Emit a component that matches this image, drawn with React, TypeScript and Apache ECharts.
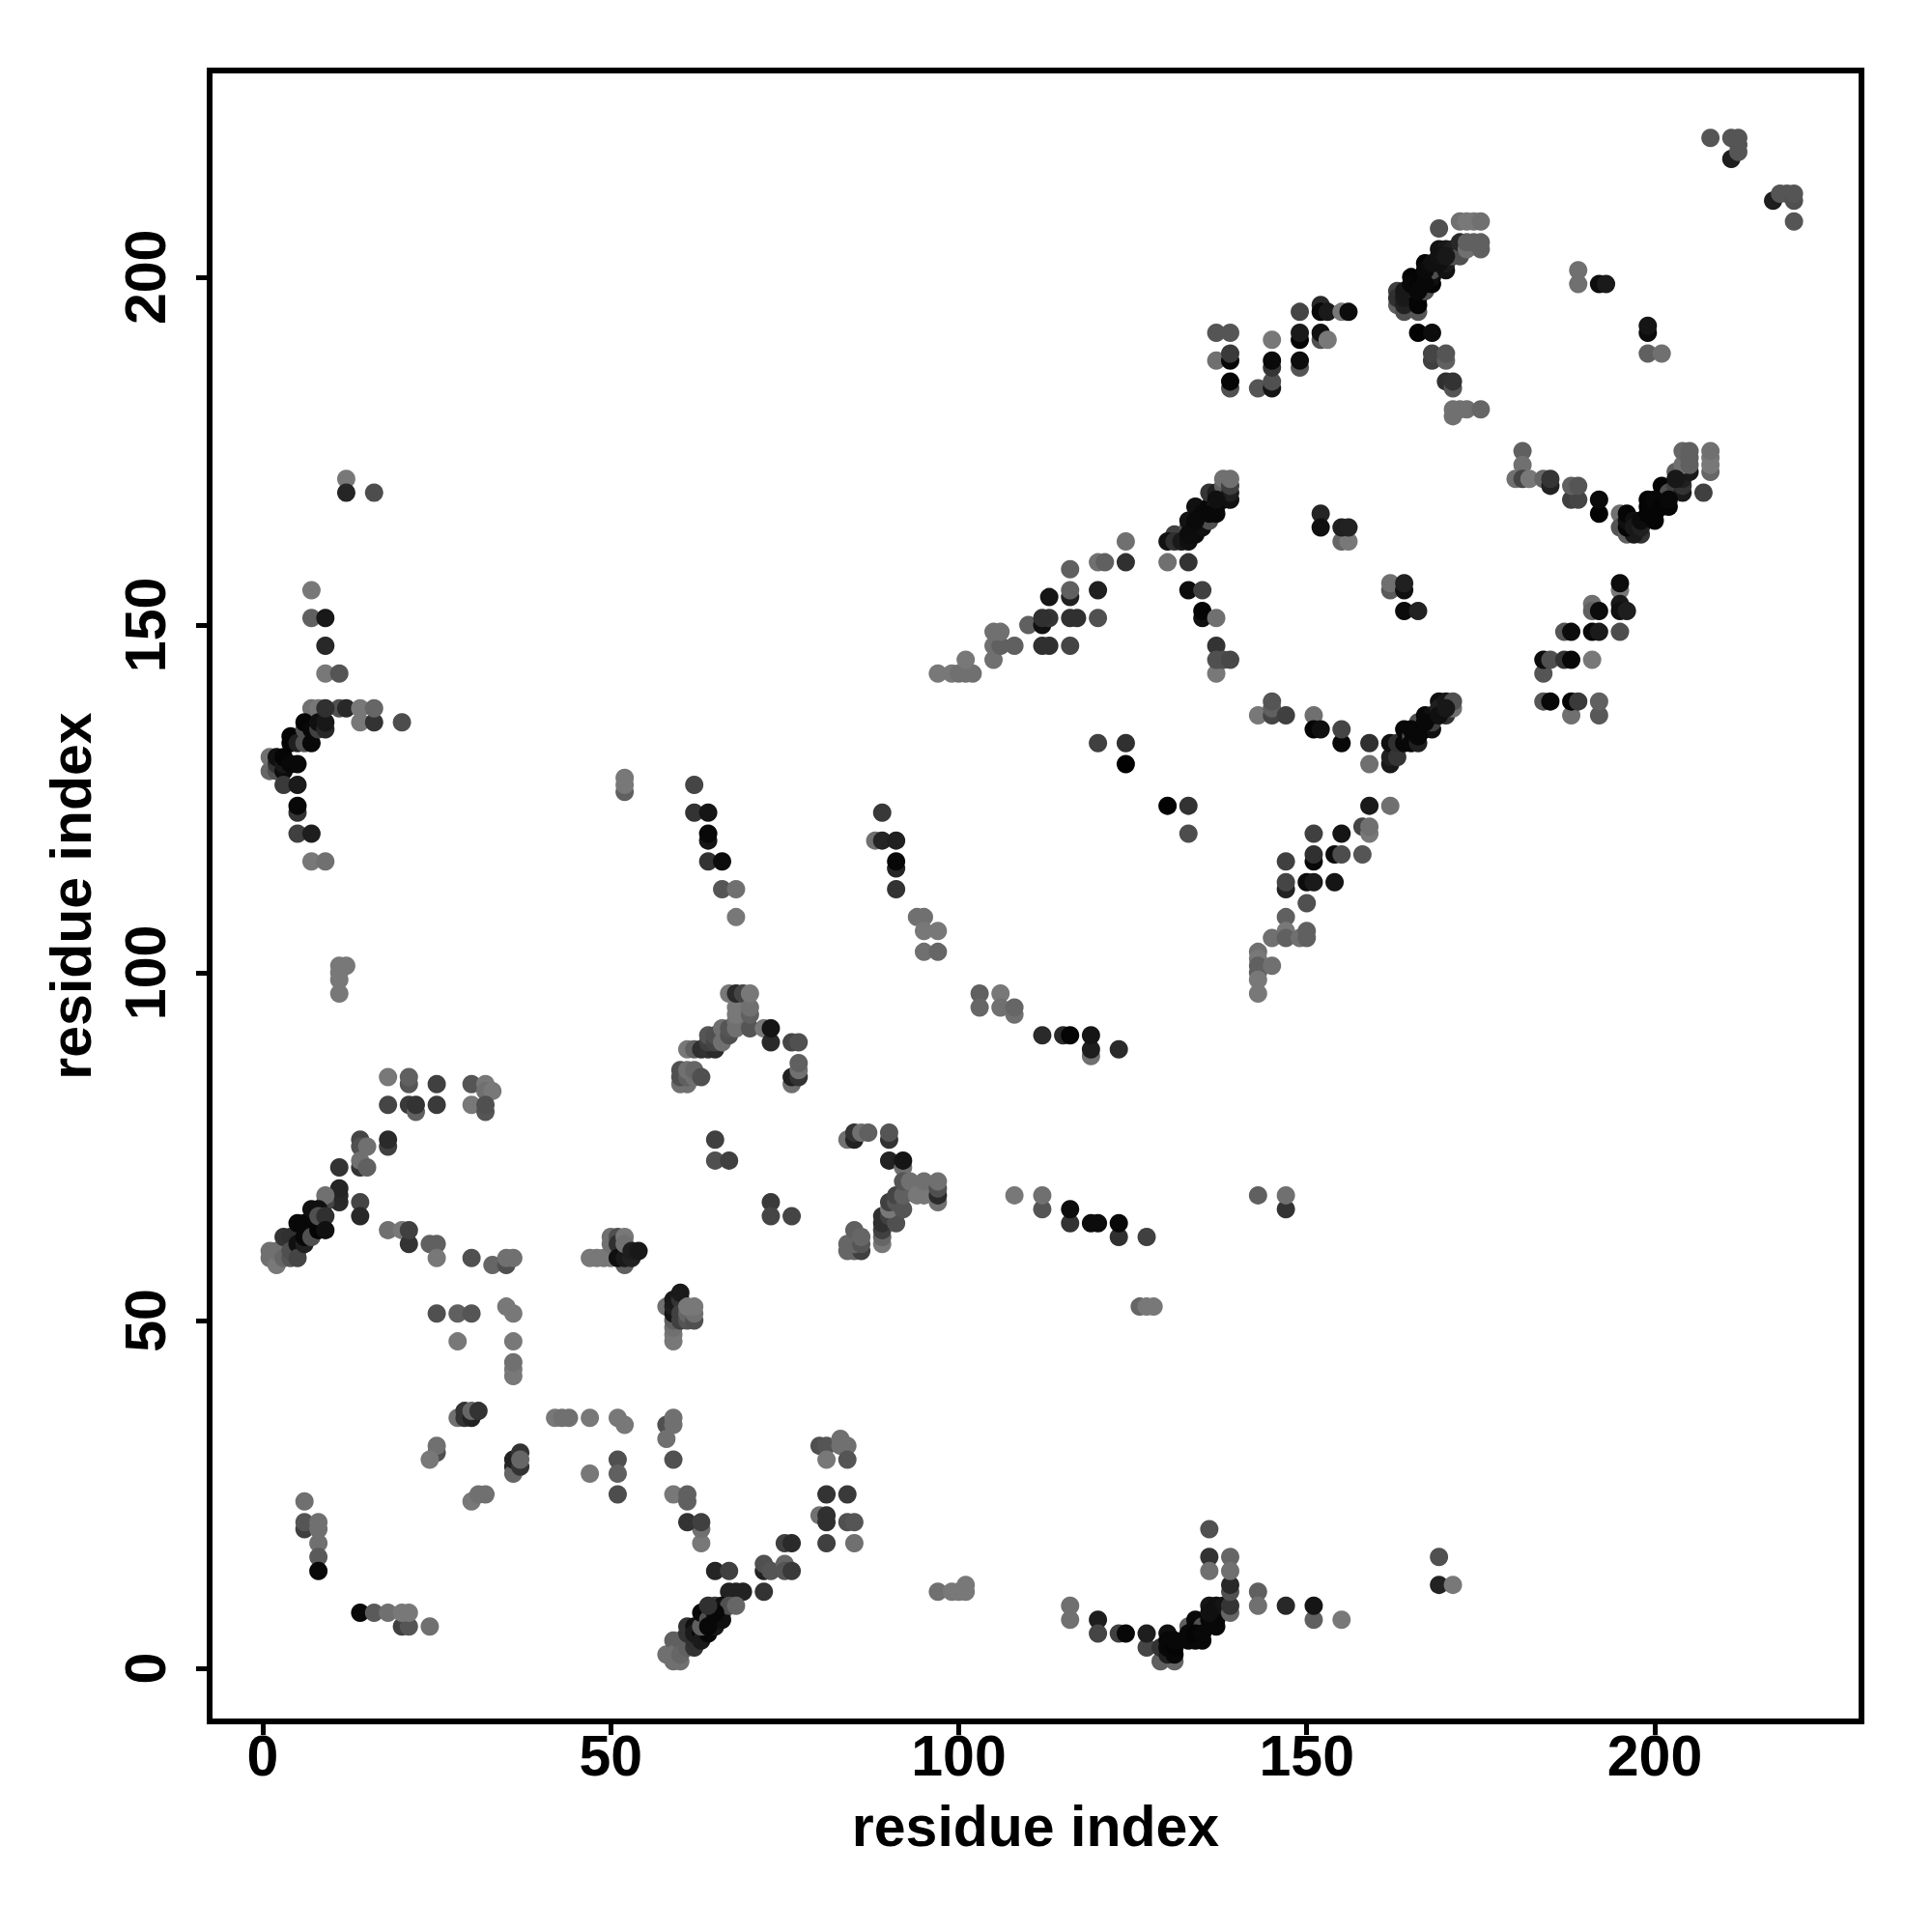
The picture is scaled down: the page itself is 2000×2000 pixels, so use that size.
import React, { useEffect, useRef } from "react";
import * as echarts from "echarts";

type P = [number, number, number];
const tickValues = [0, 50, 100, 150, 200];
const axisTitle = "residue index";

const lowLeft: P[] = [
[6,24,0x70],[6,20,0x40],[6,21,0x55],[8,21,0x70],[8,20,0x70],[8,18,0x70],[8,16,0x5a],[8,14,0x08],
[14,8,0x08],[16,8,0x5a],[18,8,0x70],[20,6,0x40],[21,6,0x55],[20,8,0x78],[21,8,0x78],[24,6,0x70],
[28,36,0x70],[29,37,0x33],[29,36,0x33],[30,36,0x22],[30,37,0x66],[31,37,0x33],
[25,31,0x50],[25,32,0x70],[24,30,0x78],[36,29,0x25],[36,28,0x66],[36,30,0x22],[37,29,0x33],[37,31,0x33],[37,30,0x66],
[30,24,0x78],[31,25,0x70],[32,25,0x70],[42,36,0x78],[43,36,0x70],[44,36,0x70],[47,36,0x78],[51,36,0x78],[52,35,0x78],
[47,28,0x78],[51,30,0x50],[51,28,0x60],[51,25,0x4d],[25,51,0x50],[28,51,0x60],[30,51,0x55],[35,52,0x78],[36,51,0x78],
[28,47,0x78],[36,47,0x78],[36,42,0x78],[36,43,0x78],[36,44,0x70],
];
const lowMid: P[] = [
[58,35,0x50],[58,33,0x70],[59,35,0x70],[59,36,0x70],[59,30,0x50],[59,25,0x78],[61,25,0x60],[61,24,0x60],
[63,18,0x78],[63,20,0x70],[61,21,0x33],[63,21,0x40],[65,14,0x25],[67,14,0x40],[67,11,0x22],[68,11,0x22],[69,11,0x22],[72,11,0x33],
[58,2,0x70],[59,1,0x70],[60,1,0x70],[59,4,0x60],[59,2,0x70],[60,4,0x60],[60,2,0x66],[61,3,0x60],
[62,3,0x33],[61,6,0x33],[61,5,0x33],[62,4,0x30],[62,6,0x10],[62,5,0x1a],[63,5,0x08],[63,4,0x1a],[64,5,0x08],[63,6,0x60],
[63,8,0x08],[64,8,0x08],[64,7,0x50],[65,7,0x08],[65,6,0x18],[65,9,0x40],[66,8,0x50],[66,9,0x10],[66,7,0x10],[67,9,0x50],[68,9,0x66],
[72,14,0x22],[72,15,0x50],[73,14,0x55],[75,15,0x66],[75,14,0x55],[76,14,0x3a],[75,18,0x40],[76,18,0x2a],
[80,32,0x50],[81,32,0x55],[83,33,0x70],[83,32,0x70],[84,32,0x70],[81,30,0x78],[84,30,0x55],[81,25,0x33],[84,25,0x3a],
[80,22,0x70],[81,22,0x30],[81,21,0x30],[84,21,0x50],[85,21,0x55],[81,18,0x40],[85,18,0x70],
[97,11,0x70],[99,11,0x78],[100,11,0x78],[101,12,0x78],[101,11,0x78],[116,9,0x70],[116,7,0x70],
];
const lowRight: P[] = [
[120,7,0x1e],[120,5,0x45],[123,5,0x40],[124,5,0x08],[127,3,0x45],[127,5,0x1e],[129,1,0x60],[131,1,0x66],[129,3,0x33],
[130,5,0x10],[130,2,0x20],[130,3,0x08],[130,4,0x08],[131,2,0x08],[131,3,0x05],[131,4,0x08],[133,4,0x08],[133,6,0x60],[134,4,0x08],[134,7,0x08],[134,6,0x08],[135,4,0x08],
[135,6,0x50],[136,7,0x08],[136,9,0x15],[137,7,0x08],[137,6,0x08],[137,9,0x10],[138,9,0x15],[139,8,0x66],[139,9,0x35],[139,11,0x50],[139,12,0x28],
[136,16,0x33],[139,16,0x66],[136,14,0x70],[139,14,0x70],[136,20,0x50],[143,11,0x60],[143,9,0x70],[147,9,0x28],[151,7,0x60],[151,9,0x15],[155,7,0x78],
[169,16,0x50],[169,12,0x22],[171,12,0x78],
];
const midLeft: P[] = [
[11,101,0x78],[12,101,0x78],[11,100,0x78],[11,99,0x78],[11,97,0x78],[18,85,0x78],[21,84,0x55],[21,85,0x60],[25,84,0x40],
[18,81,0x45],[21,81,0x3a],[22,80,0x60],[22,81,0x33],[25,81,0x3a],[30,84,0x55],[32,84,0x78],[32,83,0x70],[33,83,0x78],[30,81,0x78],[32,80,0x55],[32,81,0x50],
[14,76,0x45],[14,75,0x50],[15,75,0x70],[18,75,0x40],[18,76,0x2a],[11,72,0x33],[14,72,0x33],[14,73,0x70],[15,72,0x60],
[11,67,0x2a],[11,68,0x28],[11,69,0x25],[9,67,0x45],[9,68,0x70],[14,67,0x45],[14,65,0x28],
[1,60,0x70],[1,59,0x70],[2,58,0x78],[2,60,0x70],[3,59,0x66],[4,59,0x55],[3,62,0x33],[4,62,0x30],[4,60,0x50],[5,60,0x50],[5,61,0x10],[5,59,0x45],[6,61,0x20],[6,62,0x08],[5,64,0x08],[6,64,0x08],[7,63,0x08],[7,62,0x50],[7,66,0x10],[8,66,0x10],[8,63,0x05],[8,65,0x50],[9,65,0x30],[9,63,0x10],
[18,63,0x70],[20,63,0x78],[21,61,0x33],[21,63,0x40],[24,61,0x60],[25,61,0x60],[25,59,0x78],[30,59,0x50],[33,58,0x66],[35,58,0x50],[35,59,0x70],[36,59,0x70],
[47,59,0x78],[48,59,0x78],[49,59,0x78],[50,59,0x78],[50,62,0x70],[50,61,0x70],[51,62,0x50],[52,58,0x60],[51,61,0x30],[51,59,0x10],[52,59,0x1a],[52,62,0x78],[52,61,0x70],[53,59,0x22],[53,60,0x1e],[54,60,0x18],
];
const midCenter: P[] = [
[58,52,0x70],[59,48,0x78],[59,47,0x78],[59,49,0x70],[59,50,0x60],[59,51,0x15],[59,52,0x1e],[59,53,0x1a],[60,53,0x33],[60,54,0x1a],[60,51,0x40],[60,50,0x40],[61,50,0x55],[61,51,0x66],[62,50,0x50],[62,51,0x70],[61,52,0x78],[62,52,0x78],
[60,84,0x70],[61,84,0x70],[60,86,0x50],[60,85,0x50],[61,85,0x60],[61,86,0x70],[62,85,0x70],[62,86,0x66],[63,85,0x50],
[61,89,0x78],[62,89,0x60],[63,89,0x30],[64,89,0x33],[65,89,0x2a],[64,90,0x40],[64,91,0x55],[65,90,0x45],[65,91,0x50],[66,90,0x70],[66,92,0x70],[67,91,0x50],[67,92,0x55],[68,92,0x70],[68,93,0x70],[68,94,0x78],[68,95,0x78],
[67,97,0x78],[68,97,0x2a],[69,97,0x45],[70,92,0x55],[70,94,0x60],[70,95,0x70],[70,97,0x78],[72,92,0x78],[73,90,0x2a],[73,92,0x15],[76,90,0x45],[77,90,0x50],
[76,84,0x70],[76,85,0x20],[77,85,0x33],[77,86,0x70],[77,87,0x60],
[65,76,0x40],[65,73,0x50],[67,73,0x40],[73,67,0x3a],[73,65,0x45],[76,65,0x45],
[84,76,0x70],[85,76,0x22],[85,77,0x33],[86,77,0x70],[87,77,0x60],[90,76,0x33],[90,77,0x55],[90,73,0x22],[92,72,0x70],[92,73,0x15],
[84,60,0x66],[85,60,0x66],[86,60,0x40],[84,61,0x66],[85,61,0x66],[86,61,0x55],[85,63,0x60],[86,62,0x66],
[89,61,0x78],[89,62,0x66],[89,63,0x40],[89,64,0x30],[89,65,0x30],[90,65,0x40],[91,64,0x50],[90,66,0x78],[90,67,0x40],[91,67,0x55],[91,68,0x45],[92,66,0x55],[92,68,0x60],[92,70,0x55],
[93,70,0x70],[94,68,0x78],[95,68,0x78],[95,70,0x70],[97,67,0x70],[97,68,0x2a],[97,69,0x50],[97,70,0x70],
[108,68,0x78],[112,66,0x55],[112,68,0x70],[116,64,0x33],[116,66,0x0c],[119,64,0x0c],[120,64,0x0c],[123,62,0x30],[123,64,0x08],[127,62,0x40],[126,52,0x66],[127,52,0x78],[128,52,0x78],
[143,68,0x60],[147,66,0x33],[147,68,0x70],
];
const upMid: P[] = [
[62,127,0x45],[62,123,0x33],[64,123,0x15],[64,119,0x15],[64,120,0x08],[64,116,0x33],[66,116,0x0c],[66,112,0x55],[68,112,0x70],[68,108,0x78],
[89,123,0x38],[88,119,0x70],[89,119,0x25],[91,119,0x20],[91,115,0x25],[91,116,0x08],[91,112,0x33],
[94,108,0x70],[95,108,0x70],[95,106,0x78],[97,106,0x78],[95,103,0x70],[97,103,0x66],
[103,97,0x60],[103,95,0x66],[106,97,0x78],[106,95,0x70],[108,94,0x70],[108,95,0x66],
[112,91,0x2a],[115,91,0x2a],[116,91,0x05],[119,88,0x70],[119,89,0x1e],[119,91,0x15],[123,89,0x2a],
[52,126,0x60],[52,127,0x78],[52,128,0x78],
];
const leftTop: P[] = [
[12,171,0x78],[12,169,0x25],[16,169,0x4d],[7,155,0x78],[7,151,0x60],[9,151,0x18],[9,147,0x28],[9,143,0x78],[11,143,0x55],
[7,138,0x70],[8,138,0x78],[11,138,0x50],[12,138,0x28],[14,136,0x78],[14,138,0x78],[16,136,0x33],[16,138,0x66],[20,136,0x4d],
[1,129,0x66],[1,131,0x70],[2,129,0x50],[2,130,0x33],[2,131,0x10],[3,129,0x0c],[3,130,0x18],[3,131,0x05],[4,130,0x08],[4,133,0x05],[4,134,0x05],[5,130,0x08],[5,133,0x20],[6,133,0x50],[6,135,0x50],[6,136,0x05],[7,133,0x08],[7,135,0x08],[8,135,0x40],[8,136,0x10],[9,135,0x28],[9,136,0x18],[9,138,0x30],
[3,127,0x3a],[5,127,0x1a],[5,123,0x33],[5,124,0x08],[5,120,0x40],[7,120,0x1e],[7,116,0x78],[9,116,0x70],
];
const diagUpper: P[] = [
[120,133,0x40],[124,130,0x02],[124,133,0x30],
[130,124,0x02],[133,124,0x33],[133,120,0x4d],
[97,143,0x78],[99,143,0x78],[100,143,0x70],[101,143,0x70],[102,143,0x70],[101,145,0x78],[105,145,0x70],[105,147,0x70],[106,147,0x60],[108,147,0x60],[105,149,0x70],[106,149,0x70],[110,150,0x60],
[112,147,0x30],[113,147,0x30],[116,147,0x45],[112,150,0x10],[113,151,0x35],[112,151,0x30],[113,154,0x15],[116,151,0x30],[117,151,0x30],[116,154,0x20],[116,155,0x60],[116,158,0x60],[120,151,0x50],[120,155,0x20],[120,159,0x70],[121,159,0x60],[124,159,0x30],[124,162,0x70],
[130,159,0x70],[133,159,0x33],[133,155,0x0c],[135,155,0x40],[135,151,0x10],[135,152,0x05],[137,151,0x70],[137,147,0x33],[137,143,0x78],[137,145,0x50],[138,145,0x50],[139,145,0x48],
[131,163,0x40],[130,162,0x12],[131,162,0x30],[132,162,0x1a],[133,164,0x55],[133,162,0x10],[133,165,0x12],[134,163,0x0c],[134,164,0x08],[135,165,0x50],[135,164,0x10],[134,167,0x10],[135,166,0x0a],[136,165,0x50],[136,167,0x08],[137,167,0x50],[136,169,0x35],[137,166,0x08],[137,169,0x20],[138,168,0x08],[138,170,0x60],[138,171,0x70],[139,168,0x10],[139,169,0x20],[139,170,0x40],[139,171,0x70],
[152,166,0x25],[152,164,0x10],[155,162,0x66],[156,162,0x78],[155,164,0x20],[156,164,0x22],[162,155,0x5a],[162,156,0x70],[164,155,0x10],[164,156,0x20],[164,152,0x0c],[166,152,0x22],
];
const diagLower: P[] = [
[143,137,0x78],[145,137,0x45],[145,138,0x60],[145,139,0x55],[147,137,0x40],[151,137,0x70],[151,135,0x05],[152,135,0x10],[155,133,0x08],[155,135,0x45],[159,133,0x30],[159,130,0x70],
[162,130,0x18],[162,131,0x20],[162,133,0x10],[163,131,0x35],[163,133,0x30],[164,133,0x08],[164,135,0x08],[165,134,0x50],[165,133,0x08],[166,133,0x20],[166,135,0x08],[167,135,0x08],[166,136,0x50],[167,137,0x08],[168,135,0x10],[168,136,0x40],[168,137,0x10],[169,139,0x10],[169,138,0x20],[170,137,0x33],[170,139,0x18],[171,138,0x70],[171,139,0x50],
[159,124,0x1a],[162,124,0x70],[158,121,0x45],[159,120,0x78],[159,121,0x70],[151,120,0x40],[155,120,0x15],[151,116,0x08],[151,117,0x30],[154,117,0x0c],[155,117,0x4d],[158,117,0x55],[147,116,0x40],
[147,112,0x22],[147,113,0x45],[150,113,0x0c],[151,113,0x1a],[154,113,0x15],[150,110,0x50],[147,108,0x60],[147,106,0x78],[145,105,0x70],[147,105,0x60],[149,105,0x70],[150,105,0x60],[150,106,0x60],
[143,103,0x70],[143,102,0x78],[143,100,0x60],[143,101,0x60],[143,99,0x78],[143,97,0x78],[145,101,0x70],
];
const rightBlock: P[] = [
[184,143,0x55],[184,145,0x0c],[185,145,0x50],[187,145,0x33],[188,145,0x08],[191,145,0x78],[187,149,0x55],[188,149,0x0c],[191,149,0x08],[192,149,0x1a],[195,149,0x4d],
[184,139,0x55],[185,139,0x08],[188,137,0x70],[188,139,0x05],[189,139,0x3a],[192,137,0x58],[192,139,0x60],
[191,153,0x70],[191,152,0x60],[192,152,0x0c],[195,155,0x78],[195,156,0x0c],[195,153,0x18],[195,152,0x10],[196,152,0x1e],
[181,175,0x60],[181,173,0x70],[180,171,0x70],[181,171,0x45],[182,171,0x78],[184,171,0x66],[185,170,0x22],[185,171,0x35],[188,168,0x40],[189,168,0x45],[188,170,0x60],[189,170,0x55],[192,166,0x02],[192,168,0x0a],
[195,166,0x70],[195,164,0x55],[196,163,0x60],[198,163,0x33],[197,163,0x1a],[196,164,0x05],[196,165,0x10],[196,166,0x05],[197,165,0x10],[197,164,0x18],[198,164,0x20],[198,165,0x0c],[199,168,0x05],[199,166,0x05],[200,165,0x05],[200,167,0x50],[201,170,0x05],[201,168,0x05],[202,167,0x05],[202,169,0x50],[203,172,0x60],[203,170,0x40],[204,169,0x1a],[204,170,0x33],[204,171,0x20],[205,172,0x1a],[204,173,0x70],[204,175,0x66],[205,175,0x60],[205,174,0x60],[205,173,0x60],
[208,172,0x66],[208,173,0x78],[208,174,0x78],[208,175,0x70],[207,169,0x40],
];
const topBlock: P[] = [
[137,192,0x55],[139,192,0x55],[137,188,0x70],[139,188,0x08],[139,189,0x3a],[139,184,0x50],[139,185,0x05],[143,184,0x55],[145,184,0x15],[145,185,0x50],[145,191,0x78],[145,187,0x35],[145,188,0x0a],
[149,195,0x45],[149,191,0x05],[149,192,0x1a],[149,187,0x55],[149,188,0x0c],[152,196,0x28],[152,195,0x08],[153,195,0x1a],[155,195,0x78],[156,195,0x0c],[152,191,0x50],[152,192,0x10],[153,191,0x78],
[163,196,0x60],[164,195,0x50],[166,195,0x55],[163,198,0x40],[163,197,0x30],[164,196,0x22],[164,197,0x1a],[165,198,0x05],[165,200,0x05],[166,196,0x05],[166,197,0x05],[167,198,0x50],[167,200,0x05],[167,202,0x05],[168,199,0x05],[168,200,0x10],[168,201,0x50],[169,204,0x12],[169,207,0x50],[170,201,0x12],[170,202,0x1a],[170,204,0x18],[171,203,0x50],[171,204,0x20],
[172,203,0x50],[172,205,0x28],[173,204,0x70],[173,205,0x60],[174,205,0x60],[175,204,0x60],[175,205,0x60],[172,208,0x70],[173,208,0x78],[174,208,0x78],[175,208,0x70],
[166,192,0x02],[168,192,0x0c],[168,188,0x40],[168,189,0x45],[170,188,0x60],[170,189,0x55],[170,185,0x30],[171,184,0x55],[171,185,0x33],[171,180,0x70],[171,181,0x70],[172,181,0x70],[173,181,0x70],[175,181,0x66],
[189,201,0x70],[189,199,0x70],[192,199,0x0c],[193,199,0x1a],[199,189,0x60],[201,189,0x70],[199,192,0x0c],[199,193,0x15],
[208,220,0x55],[211,217,0x1e],[211,220,0x55],[212,218,0x55],[212,219,0x55],[212,220,0x55],[217,211,0x1e],[218,212,0x55],[219,212,0x55],[220,211,0x50],[220,212,0x55],[220,208,0x55],
];
const denseBands: P[] = [
[164,198,0x18],[165,199,0x08],[166,199,0x05],[166,198,0x08],[167,199,0x08],[167,201,0x0a],[168,202,0x10],[169,202,0x10],[169,203,0x12],[170,203,0x18],
[165,135,0x08],[166,134,0x08],[167,136,0x08],[169,137,0x10],[170,138,0x18],
[199,167,0x05],[200,166,0x05],[200,168,0x08],[201,167,0x05],[202,168,0x08],[203,171,0x18],
[133,5,0x08],[134,5,0x05],[135,5,0x08],[136,8,0x10],
[64,6,0x08],[65,8,0x08],[64,9,0x30],[133,163,0x0c],[134,165,0x0a],[136,166,0x08],[137,168,0x10],
];

const contacts: P[][] = [lowLeft, lowMid, lowRight, midLeft, midCenter, upMid, leftTop, diagUpper, diagLower, rightBlock, topBlock, denseBands];

const font = { fontFamily: "Liberation Sans", fontWeight: "bold" as const, fontSize: 59, color: "#000" };
const shade = (g: number) => `rgb(${g},${g},${g})`;

export default function App() {
  const ref = useRef<HTMLDivElement>(null);
  useEffect(() => {
    const chart = echarts.init(ref.current!, undefined, { renderer: "svg" });
    const axis = {
      type: "value" as const,
      min: -7.63,
      max: 229.7,
      splitLine: { show: false },
      axisLine: { show: true, onZero: false, lineStyle: { color: "#000", width: 6 } },
      axisTick: { show: true, customValues: tickValues, length: 14, inside: false, lineStyle: { color: "#000", width: 5 } },
      name: axisTitle,
      nameLocation: "middle" as const,
      nameTextStyle: font,
      z: 5,
    };
    chart.setOption({
      animation: false,
      backgroundColor: "#fff",
      grid: { show: true, left: 217, top: 73, width: 1710, height: 1709, borderColor: "#000", borderWidth: 6, backgroundColor: "transparent" },
      xAxis: { ...axis, nameGap: 79, axisLabel: { ...font, customValues: tickValues, margin: 6 } },
      yAxis: { ...axis, nameGap: 114, axisLabel: { ...font, customValues: tickValues, rotate: 90, margin: 66, verticalAlign: "middle", align: "center" } },
      series: [
        {
          type: "scatter",
          symbolSize: 19,
          itemStyle: { opacity: 1 },
          data: contacts.flat().map(([x, y, g]) => ({ value: [x, y], itemStyle: { color: shade(g), opacity: 1 } })),
        },
      ],
    });
    return () => chart.dispose();
  }, []);
  return <div ref={ref} style={{ position: "absolute", left: 0, top: 0, width: 2000, height: 2000 }} />;
}
